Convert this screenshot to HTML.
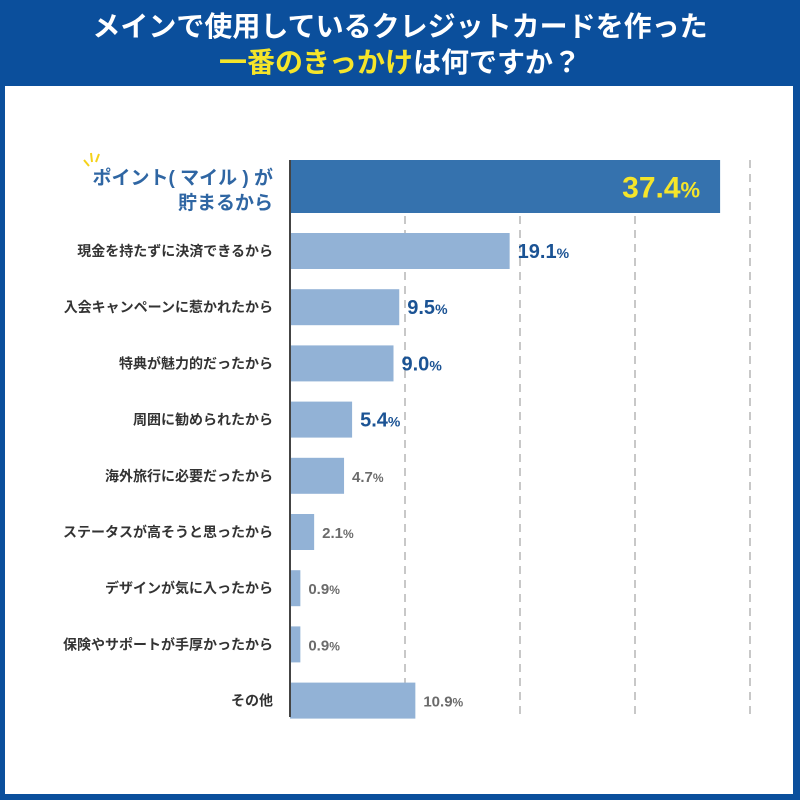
<!DOCTYPE html>
<html><head><meta charset="utf-8"><style>
body{margin:0;width:800px;height:800px;overflow:hidden;background:#0b4f9c;font-family:"Liberation Sans","Noto Sans CJK JP",sans-serif}
#panel{position:absolute;left:5px;top:86px;width:788px;height:708px;background:#fff}
.t{position:absolute;left:0;width:800px;text-align:center;color:#fff;font-weight:bold;font-size:28px;line-height:34px}
</style></head><body>
<div class="t" style="top:10px">メインで使用しているクレジットカードを作った</div>
<div class="t" style="top:46px"><span style="color:#f5e52a">一番のきっかけ</span>は何ですか？</div>
<div id="panel"></div>
<svg id="chart" width="800" height="800" style="position:absolute;left:0;top:0"></svg>
<script>
const categories=["ポイント(マイル)が貯まるから","現金を持たずに決済できるから","入会キャンペーンに惹かれたから","特典が魅力的だったから","周囲に勧められたから","海外旅行に必要だったから","ステータスが高そうと思ったから","デザインが気に入ったから","保険やサポートが手厚かったから","その他"];
const values=[37.4,19.1,9.5,9.0,5.4,4.7,2.1,0.9,0.9,10.9];
const valueLabels=["37.4","19.1","9.5","9.0","5.4","4.7","2.1","0.9","0.9","10.9"];
const gridTicks=[10,20,30,40];
const svg=document.getElementById('chart');const NS="http://www.w3.org/2000/svg";
const x0=290,pxPer=11.5;
const xs=v=>x0+v*pxPer;
function mk(t,a){const e=document.createElementNS(NS,t);for(const k in a)e.setAttribute(k,a[k]);svg.appendChild(e);return e;}
gridTicks.forEach(g=>{const l=mk('line',{x1:xs(g),x2:xs(g),y1:160,y2:716,stroke:'#c8c8c8','stroke-width':2,'stroke-dasharray':'8,6'});

});
values.forEach((v,i)=>{
  let y,h;
  if(i===0){y=160;h=53;}else{y=233+(i-1)*56.2;h=36;}
  const r=mk('rect',{x:x0,y:y,width:v*pxPer,height:h,fill:i===0?'#3572ae':'#92b2d6'});
  
  
  const cy=y+h/2;
  if(i===0){
    const t=mk('text',{x:xs(v)-20,y:cy+11,'text-anchor':'end',fill:'#f5e52a','font-size':30,'font-weight':'bold'});
    t.innerHTML=valueLabels[i]+'<tspan font-size="22">%</tspan>';
    
    
    const a=mk('text',{x:273,y:184,'text-anchor':'end',fill:'#2f66a3','font-size':19,'font-weight':'bold'});a.textContent='ポイント( マイル ) が';
    
    
    const b=mk('text',{x:273,y:209,'text-anchor':'end',fill:'#2f66a3','font-size':19,'font-weight':'bold'});b.textContent='貯まるから';
    
    
    const s=mk('path',{d:'M84 160 L89 166 M91 153 L92 162 M99 154 L96 162',stroke:'#f5d21a','stroke-width':2,fill:'none'});
    
    
  }else{
    const big=i<=4;
    const t=mk('text',{x:xs(v)+8,y:cy+(big?7:6),fill:big?'#1b5394':'#6b6b6b','font-size':big?20:15,'font-weight':'bold'});
    t.innerHTML=valueLabels[i]+'<tspan font-size="'+(big?14:12)+'">%</tspan>';
    
    
    const c=mk('text',{x:273,y:cy+5,'text-anchor':'end',fill:'#333','font-size':14,'font-weight':'bold'});
    c.textContent=categories[i];
    
    
  }
});
const ax=mk('line',{x1:x0,x2:x0,y1:160,y2:717,stroke:'#444','stroke-width':2});


</script>
</body></html>
